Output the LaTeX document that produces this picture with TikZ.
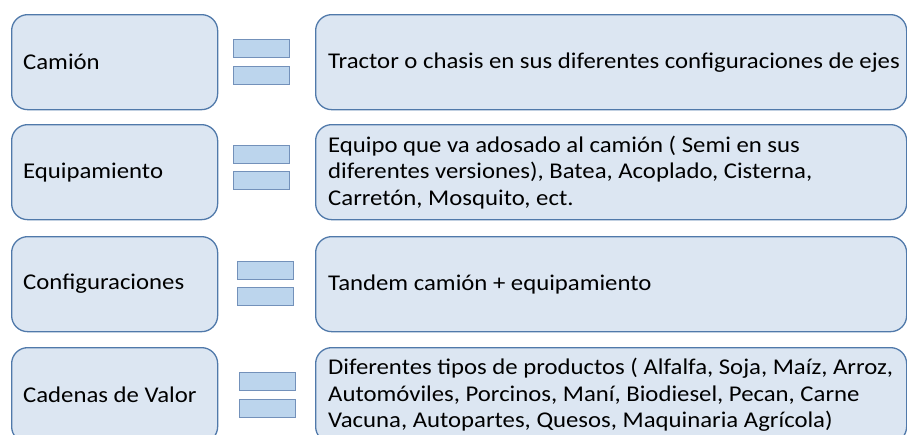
\documentclass[tikz,border=0pt]{standalone}
\usepackage{fontspec}
\setmainfont{Carlito}[FakeStretch=1.10]
\definecolor{cajaFondo}{HTML}{DCE6F2}
\definecolor{cajaBorde}{HTML}{5079AA}
\definecolor{igualFondo}{HTML}{BCD5ED}
\definecolor{igualBorde}{HTML}{7391BA}
\usetikzlibrary{positioning}
\tikzset{
	concepto/.style={
		draw=cajaBorde,
		line width=1.3pt,
		rounded corners=16pt,
		fill=cajaFondo,
		minimum width=206pt,
		minimum height=95pt,
		inner sep=0pt,
		anchor=north west
	},
	definicion/.style={
		concepto,
		minimum width=591pt
	},
	texto/.style={
		align=left,
		inner sep=0pt,
		font=\fontsize{22.5}{26.5}\selectfont
	},
	barra/.style={
		draw=igualBorde,
		line width=1.2pt,
		fill=igualFondo,
		minimum width=56pt,
		minimum height=18pt,
		inner sep=0pt,
		anchor=north west
	}
}

\begin{document}
\begin{tikzpicture}[x=1pt, y=-1pt]
		\useasboundingbox (0,0) rectangle (907,434);
		\clip (0,0) rectangle (907,434);
		\node[concepto] (concepto1) at (11,14) {};
		\node[concepto] (concepto2) at (11,124) {};
		\node[concepto] (concepto3) at (11,236) {};
		\node[concepto] (concepto4) at (11,347) {};
		\node[definicion] (definicion1) at (315,14) {};
		\node[definicion] (definicion2) at (315,124) {};
		\node[definicion] (definicion3) at (315,236) {};
		\node[definicion] (definicion4) at (315,347) {};
		\foreach \n/\x/\ya/\yb in {1/233/39/66,2/233/145/171,3/237/261/287,4/239/372/399}{
			\node[barra] (igualA\n) at (\x,\ya) {};
			\node[barra] (igualB\n) at (\x,\yb) {};
		}
		\node[texto, right=12pt of concepto1.west] (etiqueta1) {Camión};
		\node[texto, right=12pt of concepto2.west] (etiqueta2) {Equipamiento};
		\node[texto, right=12pt of concepto3.west] (etiqueta3) {Configuraciones};
		\node[texto, right=12pt of concepto4.west] (etiqueta4) {Cadenas de Valor};
		\node[texto, right=13pt of definicion1.west] (detalle1) {Tractor o chasis en sus diferentes configuraciones de ejes};
		\node[texto, right=13pt of definicion2.west] (detalle2) {Equipo que va adosado al camión ( Semi en sus\\diferentes versiones), Batea, Acoplado, Cisterna,\\Carretón, Mosquito, ect.};
		\node[texto, right=13pt of definicion3.west] (detalle3) {Tandem camión + equipamiento};
		\node[texto, right=13pt of definicion4.west] (detalle4) {Diferentes tipos de productos ( Alfalfa, Soja, Maíz, Arroz,\\Automóviles, Porcinos, Maní, Biodiesel, Pecan, Carne\\Vacuna, Autopartes, Quesos, Maquinaria Agrícola)};
	\end{tikzpicture}
\end{document}
